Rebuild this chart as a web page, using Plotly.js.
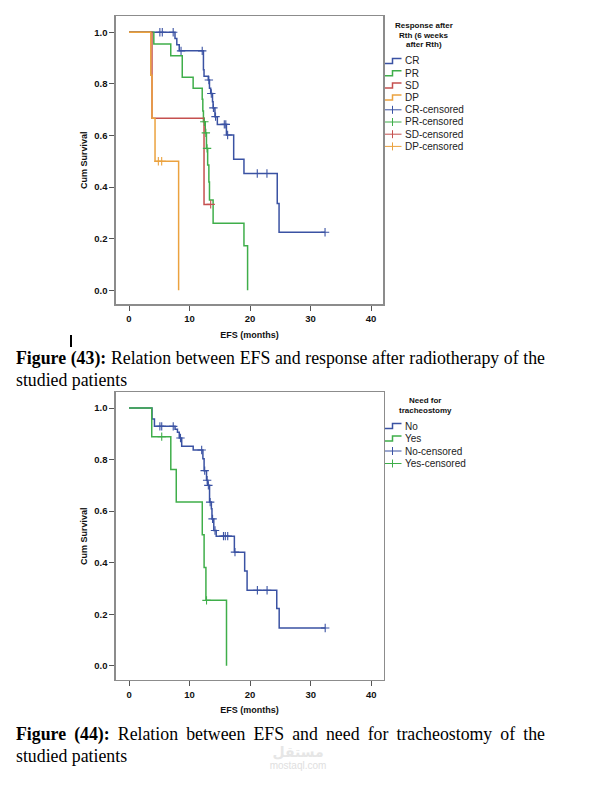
<!DOCTYPE html>
<html>
<head>
<meta charset="utf-8">
<script src="https://cdn.plot.ly/plotly-3.0.1.min.js"></script>
<style>
  html, body { margin: 0; padding: 0; background: #fff; }
  #page { position: relative; width: 593px; height: 785px; overflow: hidden; }
  #chart { position: absolute; left: 0; top: 0; width: 593px; height: 785px; }
  .cap { position: absolute; left: 16px; width: 529px; font-family: "Liberation Serif", "Times New Roman", serif;
         font-size: 17.8px; line-height: 22px; color: #000; white-space: nowrap; }
  .just { text-align: justify; text-align-last: justify; }
  .cursor { position: absolute; left: 70px; top: 335px; width: 2px; height: 12px; background: #000; }
  .wm1 { position: absolute; left: 258px; top: 745px; width: 80px; text-align: center; font-family: "DejaVu Sans", sans-serif;
         font-weight: bold; font-size: 14px; line-height: 14px; color: #e6e6e6; }
  .wm2 { position: absolute; left: 258px; top: 761px; width: 80px; text-align: center; font-family: "Liberation Sans", sans-serif;
         font-size: 10px; line-height: 10px; color: #e0e0e0; }
</style>
</head>
<body>
<div id="page">
  <div id="chart"></div>
  <div class="cursor"></div>
  <div class="cap just" style="top:347px;"><b>Figure (43):</b> Relation between EFS and response after radiotherapy of the</div>
  <div class="cap" style="top:369px;width:auto;">studied patients</div>
  <div class="wm1">مستقل</div>
  <div class="wm2">mostaql.com</div>
  <div class="cap just" style="top:723px;"><b>Figure (44):</b> Relation between EFS and need for tracheostomy of the</div>
  <div class="cap" style="top:745px;width:auto;">studied patients</div>
</div>
<script>
// ---------- DATA ----------
// Figure 43: response after radiotherapy
const respNames = ["CR", "PR", "SD", "DP"];
const respLegendTitle = ["Response after", "Rth (6 weeks", "after Rth)"];

const CR_time = [0, 7.6, 7.9, 8.3, 12.3, 12.4, 13.1, 13.3, 13.5, 13.8, 13.9, 14.2, 14.6, 16.1, 17.3, 19.0, 24.5, 24.8, 32.4];
const CR_surv = [1, 0.976, 0.952, 0.928, 0.855, 0.830, 0.815, 0.783, 0.763, 0.731, 0.707, 0.673, 0.643, 0.602, 0.508, 0.453, 0.337, 0.225, 0.225];
const CR_cens_time = [5.1, 5.5, 7.3, 8.6, 12.1, 13.2, 13.6, 13.95, 14.3, 15.75, 16.0, 16.3, 21.2, 22.8, 32.4];
const CR_cens_surv = [1, 1, 1, 0.928, 0.928, 0.815, 0.763, 0.707, 0.673, 0.643, 0.643, 0.602, 0.453, 0.453, 0.225];

const PR_time = [0, 4.1, 6.9, 8.8, 10.6, 12.1, 12.2, 12.3, 12.6, 12.8, 13.0, 13.2, 13.3, 13.9, 19.0, 19.6];
const PR_surv = [1, 0.955, 0.909, 0.826, 0.783, 0.740, 0.695, 0.653, 0.610, 0.550, 0.486, 0.420, 0.350, 0.260, 0.173, 0];
const PR_cens_time = [12.45, 12.7, 12.9];
const PR_cens_surv = [0.653, 0.610, 0.550];

const SD_time = [0, 3.8, 12.4, 13.5];
const SD_surv = [1, 0.667, 0.333, 0.333];
const SD_cens_time = [13.5];
const SD_cens_surv = [0.333];

const DP_time = [0, 3.6, 3.8, 4.3, 8.2];
const DP_surv = [1, 0.833, 0.667, 0.5, 0];
const DP_cens_time = [4.85, 5.4];
const DP_cens_surv = [0.5, 0.5];

// Figure 44: need for tracheostomy
const trachNames = ["No", "Yes"];
const trachLegendTitle = ["Need for", "tracheostomy"];

const No_time = [0, 3.8, 4.2, 7.6, 8.0, 8.3, 8.7, 10.6, 12.2, 12.4, 12.8, 13.0, 13.3, 13.6, 13.7, 14.0, 14.4, 17.4, 19.1, 19.5, 24.4, 24.8, 32.4];
const No_surv = [1, 0.957, 0.929, 0.918, 0.906, 0.884, 0.852, 0.837, 0.803, 0.757, 0.720, 0.700, 0.635, 0.609, 0.570, 0.525, 0.503, 0.441, 0.368, 0.293, 0.222, 0.147, 0.147];
const No_cens_time = [5.1, 5.4, 7.3, 8.5, 12.0, 12.5, 12.9, 13.1, 13.4, 13.8, 14.2, 15.6, 15.9, 16.3, 17.5, 21.2, 22.8, 32.4];
const No_cens_surv = [0.929, 0.929, 0.929, 0.884, 0.837, 0.757, 0.720, 0.700, 0.635, 0.570, 0.525, 0.503, 0.503, 0.503, 0.441, 0.293, 0.293, 0.147];

const Yes_time = [0, 3.75, 6.9, 7.8, 12.1, 12.4, 12.7, 16.1];
const Yes_surv = [1, 0.889, 0.762, 0.635, 0.508, 0.381, 0.254, 0];
const Yes_cens_time = [5.4, 12.8];
const Yes_cens_surv = [0.889, 0.254];

const xTickVals = [0, 10, 20, 30, 40];
const yTickVals = [0, 0.2, 0.4, 0.6, 0.8, 1.0];
const xAxisTitle = "EFS (months)";
const yAxisTitle = "Cum Survival";

// ---------- STYLE ----------
const W = 593, H = 785;
const BLUE = "#3a52a3", GREEN = "#3fae4a", RED = "#c5504f", ORANGE = "#eba23f";
const respColors = [BLUE, GREEN, RED, ORANGE];
const trachColors = [BLUE, GREEN];
const FONT = "Liberation Sans, Arial, sans-serif";

function px(x) { return x / W; }
function py(y) { return 1 - y / H; }

function curve(t, s, color, xa, ya) {
  return { x: t, y: s, type: "scatter", mode: "lines", xaxis: xa, yaxis: ya,
           line: { shape: "hv", color: color, width: 1.5 }, showlegend: false, hoverinfo: "skip" };
}
function cens(t, s, color, xa, ya) {
  return { x: t, y: s, type: "scatter", mode: "markers", xaxis: xa, yaxis: ya,
           marker: { symbol: "cross-thin", size: 6, color: color, line: { color: color, width: 1.1 } },
           showlegend: false, hoverinfo: "skip" };
}

const traces = [
  curve(CR_time, CR_surv, BLUE, "x", "y"),
  curve(PR_time, PR_surv, GREEN, "x", "y"),
  curve(SD_time, SD_surv, RED, "x", "y"),
  curve(DP_time, DP_surv, ORANGE, "x", "y"),
  cens(CR_cens_time, CR_cens_surv, BLUE, "x", "y"),
  cens(PR_cens_time, PR_cens_surv, GREEN, "x", "y"),
  cens(SD_cens_time, SD_cens_surv, RED, "x", "y"),
  cens(DP_cens_time, DP_cens_surv, ORANGE, "x", "y"),
  curve(No_time, No_surv, BLUE, "x2", "y2"),
  curve(Yes_time, Yes_surv, GREEN, "x2", "y2"),
  cens(No_cens_time, No_cens_surv, BLUE, "x2", "y2"),
  cens(Yes_cens_time, Yes_cens_surv, GREEN, "x2", "y2")
];

function xaxisDef(domL, domR, anchor) {
  return {
    domain: [px(domL), px(domR)], anchor: anchor, range: [-2.2, 42.03],
    tickvals: xTickVals, ticks: "outside", ticklen: 5, tickwidth: 1, tickcolor: "#555",
    showline: true, mirror: true, linecolor: "#8c8c8c", linewidth: 1.3,
    showgrid: false, zeroline: false,
    tickfont: { family: FONT, size: 9.5, color: "#111", weight: "bold" },
    title: { text: xAxisTitle, standoff: 8, font: { family: FONT, size: 9, color: "#111", weight: "bold" } }
  };
}
function yaxisDef(domTop, domBot, anchor, r) {
  return {
    domain: [py(domBot), py(domTop)], anchor: anchor, range: r,
    tickvals: yTickVals, tickformat: ".1f", ticks: "outside", ticklen: 5, tickwidth: 1, tickcolor: "#555",
    showline: true, mirror: true, linecolor: "#8c8c8c", linewidth: 1.3,
    showgrid: false, zeroline: false,
    tickfont: { family: FONT, size: 9.5, color: "#111", weight: "bold" },
    title: { text: yAxisTitle, standoff: 5, font: { family: FONT, size: 9, color: "#111", weight: "bold" } }
  };
}

const annotations = [];
const shapes = [];

function buildLegend(titleLines, titleX, titleY0, titleGap, names, colors, itemY0, itemGap) {
  titleLines.forEach((ln, i) => {
    annotations.push({ xref: "paper", yref: "paper", x: px(titleX), y: py(titleY0 + i * titleGap),
      xanchor: "center", yanchor: "middle", showarrow: false, text: "<b>" + ln + "</b>",
      font: { family: FONT, size: 8, color: "#111" } });
  });
  const entries = [];
  names.forEach((n, i) => entries.push({ label: n, color: colors[i], kind: "line" }));
  names.forEach((n, i) => entries.push({ label: n + "-censored", color: colors[i], kind: "cens" }));
  const x0 = 385, xm = 392.5, x1 = 401.5, xt = 402.5;
  entries.forEach((e, i) => {
    const y = itemY0 + i * itemGap;
    if (e.kind === "line") {
      shapes.push({ type: "path", xref: "paper", yref: "paper",
        path: `M ${px(x0)} ${py(y + 2.5)} L ${px(xm)} ${py(y + 2.5)} L ${px(xm)} ${py(y - 2.5)} L ${px(x1)} ${py(y - 2.5)}`,
        line: { color: e.color, width: 1.5 } });
    } else {
      shapes.push({ type: "line", xref: "paper", yref: "paper", x0: px(x0), x1: px(x1), y0: py(y), y1: py(y),
        line: { color: e.color, width: 1 } });
      shapes.push({ type: "line", xref: "paper", yref: "paper", x0: px(xm), x1: px(xm), y0: py(y - 4), y1: py(y + 4),
        line: { color: e.color, width: 1 } });
    }
    annotations.push({ xref: "paper", yref: "paper", x: px(xt), y: py(y), xanchor: "left", yanchor: "middle",
      showarrow: false, text: e.label, font: { family: FONT, size: 10, color: "#222" } });
  });
}

buildLegend(respLegendTitle, 423.5, 25.5, 9.6, respNames, respColors, 61, 12.2);
buildLegend(trachLegendTitle, 425, 400.5, 9.6, trachNames, trachColors, 426, 12.5);

const layout = {
  width: W, height: H,
  margin: { l: 0, r: 0, t: 0, b: 0, pad: 0 },
  paper_bgcolor: "#fff", plot_bgcolor: "#fff",
  showlegend: false,
  xaxis: xaxisDef(115.7, 383.3, "y"),
  yaxis: yaxisDef(16, 304.3, "x", [-0.054, 1.063]),
  xaxis2: xaxisDef(115.7, 383.5, "y2"),
  yaxis2: yaxisDef(392.3, 680, "x2", [-0.055, 1.061]),
  annotations: annotations,
  shapes: shapes
};

Plotly.newPlot("chart", traces, layout, { staticPlot: true, displayModeBar: false });
</script>
</body>
</html>
